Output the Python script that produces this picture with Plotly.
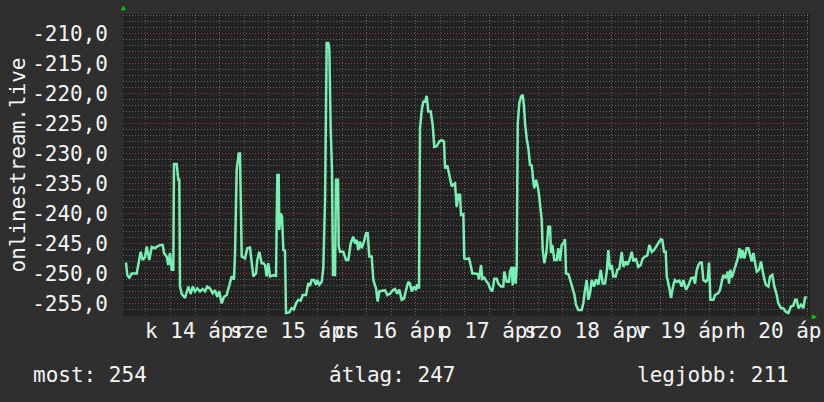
import plotly.graph_objects as go

# hours since 14 Apr 00:00, one week window
hours = [
    -4.90, -4.58, -4.09, -3.50, -2.28, -1.89, -1.30, -0.81, -0.24, 0.17, 0.81, 1.40, 2.20, 2.77,
    3.60, 4.09, 4.41, 5.07, 5.46, 5.88, 6.29, 6.69, 6.86, 7.52, 7.91, 8.16, 8.33, 8.74, 9.55,
    10.36, 10.95, 11.44, 12.00, 12.56, 13.22, 13.89, 14.45, 15.01, 15.67, 16.33, 16.90, 17.46,
    17.95, 18.54, 19.10, 19.76, 20.40, 20.99, 21.55, 21.80, 22.21, 22.70, 23.02, 23.27, 23.44,
    24.25, 24.81, 25.47, 25.89, 26.28, 26.94, 27.26, 27.75, 28.33, 28.73, 29.14, 29.56, 29.95,
    30.37, 31.18, 31.84, 32.16, 32.50, 32.64, 32.99, 33.31, 33.63, 34.04, 34.29, 35.09, 35.68,
    36.25, 36.74, 37.30, 37.89, 38.38, 39.18, 39.75, 40.16, 40.58, 41.14, 41.63, 41.95, 42.44,
    43.03, 43.42, 43.84, 44.08, 44.25, 44.65, 44.89, 45.23, 45.55, 45.80, 46.29, 46.53, 47.02,
    47.19, 47.51, 48.32, 48.98, 49.54, 50.13, 50.77, 51.18, 51.60, 51.99, 52.41, 52.82, 53.39,
    53.88, 54.29, 54.69, 55.27, 55.67, 56.33, 56.74, 57.14, 57.72, 58.53, 59.09, 59.76, 60.42,
    60.98, 61.54, 62.03, 62.62, 63.18, 63.67, 64.24, 64.65, 65.07, 65.63, 66.12, 66.44, 66.86,
    67.10, 67.52, 67.91, 68.33, 68.74, 69.13, 69.72, 70.21, 70.60, 71.19, 71.83, 72.42, 72.98,
    73.23, 73.79, 74.45, 74.87, 75.43, 75.67, 76.09, 76.48, 76.90, 77.14, 77.71, 77.95, 78.54,
    79.10, 79.59, 79.91, 80.57, 81.23, 81.55, 82.04, 82.36, 82.85, 83.44, 83.83, 84.25, 84.81,
    85.30, 85.89, 86.28, 86.94, 87.50, 87.75, 88.33, 88.90, 89.14, 89.56, 89.80, 90.12, 90.54,
    90.78, 91.03, 91.42, 91.84, 92.25, 92.57, 92.82, 93.23, 93.63, 94.04, 94.46, 94.85, 95.09,
    95.51, 95.93, 96.25, 96.57, 96.91, 97.15, 97.54, 98.03, 98.52, 98.94, 99.18, 99.50, 99.99,
    100.58, 100.97, 101.39, 101.80, 102.20, 102.61, 102.86, 103.42, 103.84, 104.40, 104.89,
    105.31, 105.87, 106.70, 107.09, 107.51, 107.93, 108.32, 108.74, 109.15, 109.72, 110.21,
    110.77, 111.36, 111.85, 112.41, 112.83, 113.22, 113.63, 114.05, 114.44, 115.03, 115.42,
    115.91, 116.50, 116.89, 117.55, 117.87, 118.36, 118.95, 119.34, 119.93, 120.57, 121.15,
    121.64, 122.20, 122.77, 123.26, 123.85, 124.41, 124.90, 125.46, 126.05, 126.44, 126.86,
    127.27, 127.52, 128.08, 128.57, 129.14, 129.55, 129.97, 130.61, 131.19, 131.59, 132.25,
    132.81, 133.47, 134.03, 134.45, 134.87, 135.26, 135.67, 136.09, 136.48, 137.07, 137.56,
    137.88, 138.20, 138.93, 139.35, 140.16, 140.57, 140.99, 141.38, 141.97, 142.46, 142.78,
    143.10, 143.44, 143.93, 144.42, 144.91, 145.30, 145.72, 146.03, 146.52, 147.11, 147.50,
    147.92, 148.34, 148.73, 149.14, 149.56, 150.12, 150.61, 151.18, 151.77, 152.40, 152.82,
    153.38, 153.87, 154.46, 154.85, 155.51, 156.07, 156.66, 157.30, 157.96, 158.52, 158.94,
    159.36, 159.75, 160.41, 160.97, 161.39, 161.81,
]
# negated rank
rank = [
    -248.2, -250.25, -250.8, -250.0, -250.0, -248.3, -246.4, -247.75, -247.3, -245.5, -247.75,
    -245.6, -245.8, -245.5, -245.25, -245.25, -246.6, -247.2, -248.6, -246.6, -249.4, -249.4,
    -231.75, -231.75, -234.4, -234.4, -252.2, -253.4, -254.1, -252.2, -253.4, -252.2, -253.0,
    -252.5, -253.0, -252.6, -253.0, -252.2, -252.5, -253.3, -252.8, -253.9, -253.0, -255.0,
    -253.9, -253.6, -252.2, -250.5, -251.0, -246.6, -232.75, -230.0, -230.0, -245.5, -247.2,
    -247.5, -245.8, -245.7, -247.75, -250.5, -250.0, -247.75, -246.4, -248.3, -248.3, -248.6,
    -250.5, -248.3, -250.5, -250.3, -250.4, -233.6, -233.6, -242.75, -240.0, -240.5, -246.1,
    -246.2, -256.6, -256.5, -255.8, -256.0, -255.0, -254.4, -254.5, -253.6, -253.6, -251.6,
    -252.1, -251.1, -251.1, -251.9, -251.1, -251.9, -251.4, -249.1, -238.0, -226.1, -211.6,
    -211.6, -212.5, -226.1, -232.75, -250.25, -250.25, -234.4, -234.4, -245.5, -246.4, -246.4,
    -247.75, -247.75, -245.0, -243.9, -245.0, -244.4, -246.1, -244.7, -245.8, -244.7, -243.3,
    -243.3, -247.2, -247.2, -251.1, -252.5, -254.7, -253.0, -252.9, -252.8, -253.6, -253.4,
    -252.8, -252.6, -253.4, -252.7, -254.4, -254.2, -252.8, -251.4, -251.7, -253.0, -252.2,
    -252.8, -251.8, -252.5, -225.8, -222.75, -221.4, -221.4, -220.4, -223.0, -223.0, -225.25,
    -228.9, -228.8, -228.0, -227.8, -228.0, -232.5, -232.0, -234.1, -235.5, -235.1, -235.0,
    -238.9, -236.9, -236.9, -240.25, -240.1, -247.5, -247.6, -247.5, -248.9, -250.0, -250.0,
    -250.1, -251.0, -248.6, -250.9, -250.7, -251.4, -251.7, -252.5, -253.0, -250.9, -250.9,
    -251.7, -252.2, -252.2, -249.7, -251.4, -251.4, -249.7, -248.9, -252.0, -248.9, -251.7,
    -248.9, -225.0, -221.6, -220.5, -220.25, -222.2, -225.0, -227.5, -229.1, -231.9, -232.0,
    -234.7, -235.8, -234.4, -235.5, -236.9, -238.9, -241.1, -246.1, -248.3, -246.6, -242.2,
    -242.2, -246.6, -245.25, -247.75, -247.75, -245.8, -247.9, -245.25, -245.0, -244.3, -250.0,
    -250.1, -251.0, -252.6, -253.5, -255.25, -256.1, -256.1, -255.0, -252.7, -251.1, -254.4,
    -253.3, -251.1, -252.2, -251.0, -251.9, -249.4, -251.7, -251.7, -249.7, -246.1, -249.4,
    -248.6, -250.5, -250.5, -249.4, -249.2, -246.4, -248.9, -248.0, -248.6, -247.8, -246.4,
    -248.0, -247.5, -248.9, -248.6, -247.5, -247.2, -247.0, -245.25, -246.4, -246.1, -245.5,
    -245.0, -244.3, -244.4, -246.4, -246.4, -250.5, -252.2, -254.1, -251.9, -251.1, -251.4,
    -251.2, -252.2, -251.1, -252.7, -252.0, -250.8, -250.7, -251.7, -249.4, -248.6, -248.2,
    -248.2, -251.1, -251.4, -251.0, -248.2, -254.4, -254.4, -253.6, -253.3, -252.75, -251.4,
    -250.25, -250.8, -249.7, -251.7, -249.4, -250.7, -249.4, -248.6, -247.5, -245.8, -247.5,
    -246.1, -247.5, -245.8, -245.8, -246.9, -248.0, -246.6, -248.0, -249.7, -249.4, -248.0,
    -250.25, -251.9, -252.2, -250.5, -250.25, -252.2, -253.6, -255.0, -255.8, -255.8, -256.4,
    -256.6, -255.5, -255.4, -254.4, -254.4, -255.8, -255.2, -255.8, -254.0, -254.0,
]

day_noons = [12, 36, 60, 84, 108, 132, 156]
day_labels = ["k 14 ápr", "sze 15 ápr", "cs 16 ápr", "p 17 ápr", "szo 18 ápr", "v 19 ápr", "h 20 ápr"]
y_ticks = [-210, -215, -220, -225, -230, -235, -240, -245, -250, -255]
y_labels = [f"{v:.1f}".replace(".", ",") for v in y_ticks]
summary = [("most: 254", 31), ("átlag: 247", 327), ("legjobb: 211", 635)]

W, H = 824, 402
L, R, T, B = 123, 14, 14, 86
PW, PH = W - L - R, H - T - B

FONT = "DejaVu Sans Mono"
FS = 21
TXT = "#f4f4f4"
RED_GRID = "#8a3c3c"
GRAY_GRID = "#636363"

fig = go.Figure()
fig.add_trace(go.Scatter(x=hours, y=rank, mode="lines",
                         line=dict(color="#78f0b4", width=2.5), hoverinfo="skip"))

fig.update_layout(
    width=W, height=H,
    margin=dict(l=L, r=R, t=T, b=B, autoexpand=False),
    paper_bgcolor="#2f2f2f", plot_bgcolor="#222222",
    showlegend=False,
    font=dict(family=FONT, size=FS, color=TXT),
    xaxis=dict(
        range=[-5.63, 162.6], showticklabels=False, zeroline=False,
        tick0=0, dtick=24, showgrid=True, gridcolor=RED_GRID, griddash="1px,2px", gridwidth=1,
        minor=dict(tick0=0, dtick=6, showgrid=True, gridcolor=GRAY_GRID, griddash="1px,2px"),
    ),
    yaxis=dict(
        range=[-257.1, -206.75], zeroline=False,
        tickmode="array", tickvals=y_ticks, ticktext=y_labels,
        showgrid=True, gridcolor=RED_GRID, griddash="1px,2px",
        minor=dict(tickmode="linear", tick0=-210, dtick=1, showgrid=True,
                   gridcolor=GRAY_GRID, griddash="1px,2px"),
        ticklabelstandoff=14,
        title=dict(text="onlinestream.live", standoff=0,
                   font=dict(family=FONT, size=FS, color=TXT)),
    ),
)

# day labels sit between the midnight lines
for h, lab in zip(day_noons, day_labels):
    fig.add_annotation(x=h, y=-15 / PH, xref="x", yref="paper", text=lab, showarrow=False,
                       xanchor="center", yanchor="middle", font=dict(family=FONT, size=FS, color=TXT))

# rrdtool style axis arrows
fig.add_annotation(x=0, y=1, xref="paper", yref="paper", text="▲", showarrow=False,
                   xanchor="center", yanchor="bottom", font=dict(size=8, color="#00d000"))
fig.add_annotation(x=1, y=0, xref="paper", yref="paper", text="▶", showarrow=False,
                   xanchor="left", yanchor="middle", font=dict(size=8, color="#00d000"))

# summary line under the chart
for txt, xpos in summary:
    fig.add_annotation(x=(xpos - L) / PW, y=(H - B - 375) / PH, xref="paper", yref="paper",
                       text=txt, showarrow=False, xanchor="left", yanchor="middle",
                       font=dict(family=FONT, size=FS, color=TXT))

fig.write_html("out.html", config={"displayModeBar": False},
               post_script="document.body.style.margin='0';")
